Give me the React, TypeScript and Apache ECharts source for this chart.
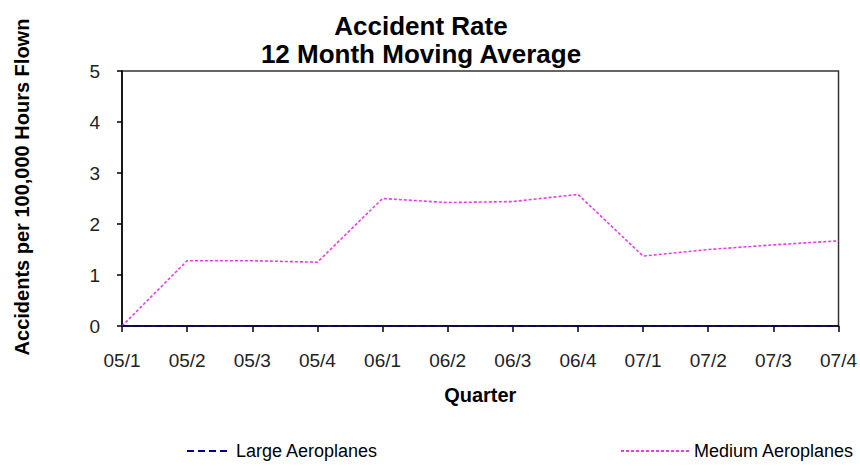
import React, { useEffect, useRef } from "react";
import * as echarts from "echarts";

const categories = ["05/1", "05/2", "05/3", "05/4", "06/1", "06/2", "06/3", "06/4", "07/1", "07/2", "07/3", "07/4"];
const largeAeroplanes = [0, 0, 0, 0, 0, 0, 0, 0, 0, 0, 0, 0];
const mediumAeroplanes = [0, 1.28, 1.28, 1.25, 2.5, 2.42, 2.44, 2.58, 1.37, 1.5, 1.59, 1.67];
const yTicks = [0, 1, 2, 3, 4, 5];

const FONT = "'Liberation Sans', Arial, sans-serif";

export default function App() {
  const ref = useRef<HTMLDivElement>(null);
  useEffect(() => {
    if (!ref.current) return;
    const chart = echarts.init(ref.current, null, { renderer: "svg" });
    chart.setOption({
      animation: false,
      backgroundColor: "#ffffff",
      textStyle: { fontFamily: FONT },
      title: {
        text: "Accident Rate\n12 Month Moving Average",
        left: 416,
        top: 7,
        textAlign: "center",
        textStyle: { fontFamily: FONT, fontSize: 26, fontWeight: "bold", color: "#000", lineHeight: 28 },
      },
      graphic: [
        {
          type: "text",
          x: 22,
          y: 187,
          rotation: Math.PI / 2,
          style: {
            text: "Accidents per 100,000 Hours Flown",
            fontFamily: FONT,
            fontSize: 20,
            fontWeight: "bold",
            fill: "#000",
            align: "center",
            verticalAlign: "middle",
          },
        },
      ],
      legend: [
        {
          data: ["Large Aeroplanes"],
          left: 186,
          top: 442,
          padding: 0,
          itemWidth: 42,
          itemHeight: 14,
          itemGap: 10,
          itemStyle: { opacity: 0 },
          textStyle: { fontFamily: FONT, fontSize: 18, color: "#000", padding: [0, 0, 0, 2] },
        },
        {
          data: ["Medium Aeroplanes"],
          left: 620,
          top: 442,
          padding: 0,
          itemWidth: 68,
          itemHeight: 14,
          itemGap: 10,
          itemStyle: { opacity: 0 },
          textStyle: { fontFamily: FONT, fontSize: 18, color: "#000", padding: [0, 0, 0, 0] },
        },
      ],
      grid: {
        left: 122,
        right: 20,
        top: 71,
        bottom: 146,
        show: true,
        borderColor: "#333",
        borderWidth: 1.5,
        backgroundColor: "transparent",
      },
      xAxis: {
        type: "category",
        data: categories,
        boundaryGap: false,
        name: "Quarter",
        nameLocation: "middle",
        nameGap: 59,
        nameTextStyle: { fontFamily: FONT, fontSize: 20, fontWeight: "bold", color: "#000" },
        axisLine: { show: true, lineStyle: { color: "#000", width: 1.5 } },
        axisTick: { show: true, inside: false, length: 6, alignWithLabel: true, lineStyle: { color: "#000", width: 1.5 } },
        axisLabel: { fontFamily: FONT, fontSize: 19, color: "#222", margin: 25, interval: 0 },
        splitLine: { show: false },
      },
      yAxis: {
        type: "value",
        min: yTicks[0],
        max: yTicks[yTicks.length - 1],
        interval: 1,
        axisLine: { show: true, lineStyle: { color: "#000", width: 1.5 } },
        axisTick: { show: true, inside: false, length: 5, lineStyle: { color: "#000", width: 1.5 } },
        axisLabel: { fontFamily: FONT, fontSize: 19, color: "#222", margin: 22 },
        splitLine: { show: false },
      },
      series: [
        {
          name: "Large Aeroplanes",
          type: "line",
          data: largeAeroplanes,
          symbol: "none",
          showSymbol: false,
          z: 5,
          lineStyle: { color: "#000080", width: 1.5, type: [7, 4] },
          itemStyle: { color: "#000080" },
        },
        {
          name: "Medium Aeroplanes",
          type: "line",
          data: mediumAeroplanes,
          symbol: "none",
          showSymbol: false,
          z: 4,
          lineStyle: { color: "#E83CE8", width: 1.6, type: [3, 2] },
          itemStyle: { color: "#E83CE8" },
        },
      ],
    });
    return () => chart.dispose();
  }, []);
  return <div ref={ref} style={{ width: 860, height: 472, position: "absolute", left: 0, top: 0 }} />;
}
